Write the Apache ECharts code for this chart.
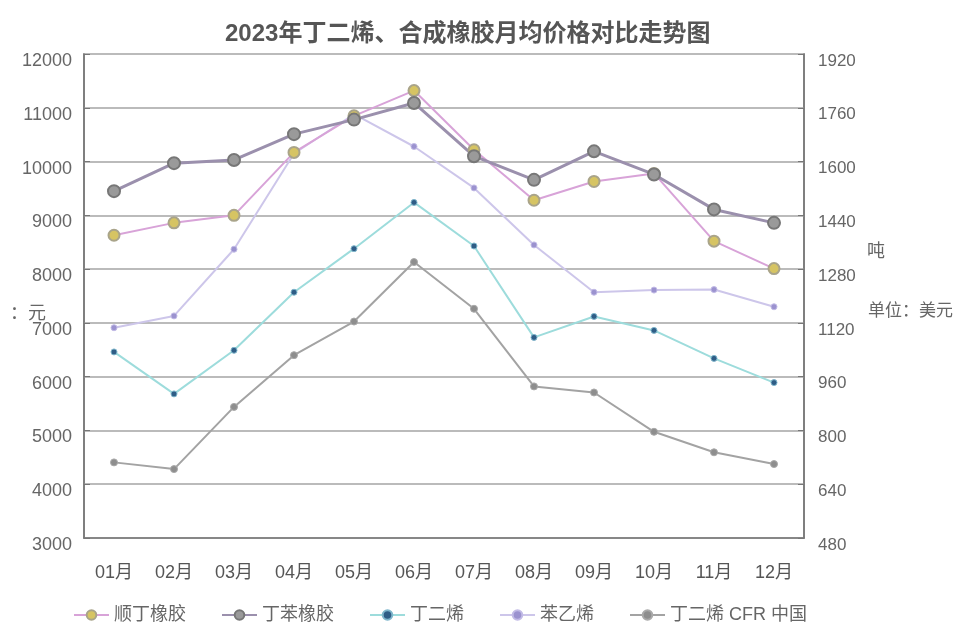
<!DOCTYPE html>
<html>
<head>
<meta charset="utf-8">
<script src="https://cdn.jsdelivr.net/npm/echarts@6/dist/echarts.min.js"></script>
<style>html,body{margin:0;padding:0;background:#fff;}#c{width:960px;height:641px;}</style>
</head>
<body>
<div id="c"></div>
<script>
const months = ['01月','02月','03月','04月','05月','06月','07月','08月','09月','10月','11月','12月'];
const shundingRubber = [8630, 8860, 9000, 10170, 10850, 11320, 10220, 9280, 9630, 9780, 8520, 8010];
const dingbenRubber = [9450, 9970, 10030, 10510, 10780, 11090, 10100, 9660, 10190, 9760, 9110, 8860];
const butadiene = [6460, 5680, 6490, 7570, 8380, 9240, 8430, 6730, 7120, 6860, 6340, 5890];
const styrene = [6910, 7130, 8370, 10150, 10880, 10280, 9510, 8450, 7570, 7610, 7620, 7300];
const butadieneCFR = [705, 685, 870, 1024, 1124, 1301, 1162, 931, 913, 796, 735, 700];
const leftTicks = {min: 3000, max: 12000, interval: 1000};
const rightTicks = {min: 480, max: 1920, interval: 160};

const chart = echarts.init(document.getElementById('c'));
const font = '"Liberation Sans", "Noto Sans CJK SC", sans-serif';
const plain = v => String(v);
chart.setOption({
  backgroundColor: '#fff',
  animation: false,
  textStyle: {fontFamily: font},
  title: {
    text: '{a|2023年}{b|丁二烯、合成橡胶月均价格对比走势图}',
    left: 220, top: 17,
    textStyle: {
      rich: {
        a: {fontSize: 24, color: '#555', fontFamily: font},
        b: {fontSize: 24, color: '#555', fontWeight: 'bold', fontFamily: font}
      }
    }
  },
  grid: {left: 84, right: 156, top: 54, bottom: 103, show: true, borderColor: '#777', borderWidth: 1.5},
  legend: {
    top: 601, left: 68, itemGap: 35, itemWidth: 35, itemHeight: 12,
    textStyle: {fontSize: 18, color: '#666'},
    data: ['顺丁橡胶','丁苯橡胶','丁二烯','苯乙烯','丁二烯 CFR 中国']
  },
  xAxis: {
    type: 'category', data: months, boundaryGap: true,
    axisLine: {lineStyle: {color: '#777', width: 1.5}},
    axisTick: {show: false},
    axisLabel: {color: '#555', fontSize: 18, margin: 26}
  },
  yAxis: [
    {type: 'value', min: leftTicks.min, max: leftTicks.max, interval: leftTicks.interval,
     axisLine: {show: true, lineStyle: {color: '#777', width: 1.5}},
     axisTick: {show: true, inside: true, length: 6, lineStyle: {color: '#777'}},
     axisLabel: {color: '#666', fontSize: 18, margin: 12, formatter: plain, verticalAlign: 'top', lineHeight: 14},
     splitLine: {lineStyle: {color: '#bbb', width: 2}}},
    {type: 'value', min: rightTicks.min, max: rightTicks.max, interval: rightTicks.interval,
     axisLine: {show: true, lineStyle: {color: '#777', width: 1.5}},
     axisTick: {show: true, inside: true, length: 6, lineStyle: {color: '#777'}},
     axisLabel: {color: '#666', fontSize: 17, margin: 14, formatter: plain, verticalAlign: 'top', lineHeight: 14},
     splitLine: {show: false}}
  ],
  graphic: [
    {type: 'text', left: 10, top: 305, style: {text: '：元', fontSize: 18, fill: '#666', fontFamily: font}},
    {type: 'text', left: 867, top: 243, style: {text: '吨', fontSize: 18, fill: '#666', fontFamily: font}},
    {type: 'text', left: 868, top: 303, style: {text: '单位：美元', fontSize: 17, fill: '#666', fontFamily: font}}
  ],
  series: [
    {name: '丁二烯 CFR 中国', type: 'line', yAxisIndex: 1, data: butadieneCFR,
     symbol: 'circle', symbolSize: 7,
     lineStyle: {color: '#a3a3a3', width: 2}, itemStyle: {color: '#8e8e8e', borderColor: '#aaa', borderWidth: 1}},
    {name: '苯乙烯', type: 'line', data: styrene,
     symbol: 'circle', symbolSize: 6,
     lineStyle: {color: '#cdc6ea', width: 2}, itemStyle: {color: '#9b92cf', borderColor: '#c2bbe6', borderWidth: 1}},
    {name: '丁二烯', type: 'line', data: butadiene,
     symbol: 'circle', symbolSize: 6,
     lineStyle: {color: '#9ddcdc', width: 2}, itemStyle: {color: '#2f5d86', borderColor: '#7fb6cc', borderWidth: 1}},
    {name: '顺丁橡胶', type: 'line', data: shundingRubber,
     symbol: 'circle', symbolSize: 11,
     lineStyle: {color: '#d8a3d8', width: 2}, itemStyle: {color: '#d6c463', borderColor: '#a9a48a', borderWidth: 2}},
    {name: '丁苯橡胶', type: 'line', data: dingbenRubber,
     symbol: 'circle', symbolSize: 12,
     lineStyle: {color: '#9b90ad', width: 3}, itemStyle: {color: '#9a9a9a', borderColor: '#777', borderWidth: 2}}
  ]
});
</script>
</body>
</html>
